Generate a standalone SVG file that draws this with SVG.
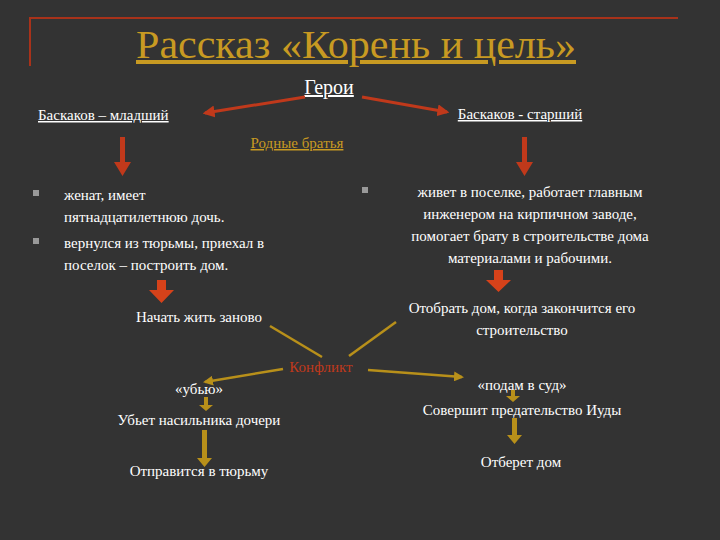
<svg xmlns="http://www.w3.org/2000/svg" width="720" height="540" viewBox="0 0 720 540" font-family="'Liberation Serif','DejaVu Serif',Times,serif">
<defs>
<style>
text{font-family:'Liberation Serif','DejaVu Serif',Times,serif;fill:#fff;font-size:15px}
.c{text-anchor:middle}
.u{text-decoration:underline}
.g{stroke:#b8901a;stroke-width:2.5;fill:none}
.r{stroke:#c0391b;stroke-width:3;fill:none}
</style>
<marker id="ra" viewBox="0 0 10 10" refX="8" refY="5" markerWidth="4" markerHeight="4" orient="auto"><path d="M0,0L10,5L0,10z" fill="#c0391b"/></marker>
<marker id="ga" viewBox="0 0 10 10" refX="8" refY="5" markerWidth="4" markerHeight="4" orient="auto"><path d="M0,0L10,5L0,10z" fill="#b8901a"/></marker>
</defs>
<rect width="720" height="540" fill="#333"/>
<path d="M30,66V18H678" stroke="#a8321a" stroke-width="2" fill="none"/>
<g id="title"><text x="356" y="58" class="c u" style="font-size:40px;fill:#c89a22" textLength="440" lengthAdjust="spacingAndGlyphs">Рассказ «Корень и цель»</text></g>
<g id="geroi"><text x="329" y="94" class="c u" style="font-size:20px">Герои</text></g>
<g id="младший"><text x="38" y="120" class="u">Баскаков – младший</text></g>
<g id="старший"><text x="520" y="119" class="c u">Баскаков - старший</text></g>
<g id="bratya"><text x="297" y="148" class="c u" style="fill:#c89a22">Родные братья</text></g>
<g id="left">
<rect x="33" y="190" width="6" height="6" fill="#999"/><rect x="33" y="238" width="6" height="6" fill="#999"/>
<text x="64" y="200">женат, имеет</text><text x="64" y="222">пятнадцатилетнюю дочь.</text>
<text x="64" y="248">вернулся из тюрьмы, приехал в</text><text x="64" y="270">поселок – построить дом.</text>
</g>
<g id="right">
<rect x="362" y="187" width="6" height="6" fill="#999"/>
<text x="530" y="197" class="c">живет в поселке, работает главным</text>
<text x="530" y="219" class="c">инженером на кирпичном заводе,</text>
<text x="530" y="241" class="c">помогает брату в строительстве дома</text>
<text x="530" y="263" class="c">материалами и рабочими.</text>
</g>
<g id="zanovo"><text x="199" y="322" class="c">Начать жить заново</text></g>
<g id="otobrat"><text x="522" y="313" class="c">Отобрать дом, когда закончится его</text><text x="522" y="335" class="c">строительство</text></g>
<g id="konflikt"><text x="321" y="372" class="c" style="fill:#c0391b">Конфликт</text></g>
<g id="ubyu"><text x="199" y="394" class="c">«убью»</text><text x="199" y="425" class="c">Убьет насильника дочери</text></g>
<g id="tyurma"><text x="199" y="476" class="c">Отправится в тюрьму</text></g>
<g id="sud"><text x="522" y="390" class="c">«подам в суд»</text><text x="522" y="415" class="c">Совершит предательство Иуды</text></g>
<g id="otberet"><text x="521" y="467" class="c">Отберет дом</text></g>
<g id="connectors">
<path class="r" d="M305,97L205,113" marker-end="url(#ra)"/>
<path class="r" d="M362,97L447,112" marker-end="url(#ra)"/>
<path d="M120,137h5v25h6l-8.5,14l-8.5,-14h6z" fill="#c0391b"/>
<path d="M522,137h5v25h6l-8.5,14l-8.5,-14h6z" fill="#c0391b"/>
<path d="M157,280h9v10h8l-12.5,13l-12.5,-13h8z" fill="#d6421a"/>
<path d="M494,270h9v10h8l-12.5,12l-12.5,-12h8z" fill="#d6421a"/>
<path class="g" d="M270,326L322,357"/>
<path class="g" d="M396,322L349,356"/>
<path class="g" d="M283,369L205,382" marker-end="url(#ga)"/>
<path class="g" d="M368,370L462,377" marker-end="url(#ga)"/>
<path d="M204,397h4v8h5l-7,6l-7,-6h5z" fill="#b8901a"/>
<path d="M202,430h5v28h5l-7.5,9l-7.5,-9h5z" fill="#b8901a"/>
<path d="M511,390h4v6h5l-7,6l-7,-6h5z" fill="#b8901a"/>
<path d="M512,418h5v17h5l-7.5,9l-7.5,-9h5z" fill="#b8901a"/>
</g>
</svg>
